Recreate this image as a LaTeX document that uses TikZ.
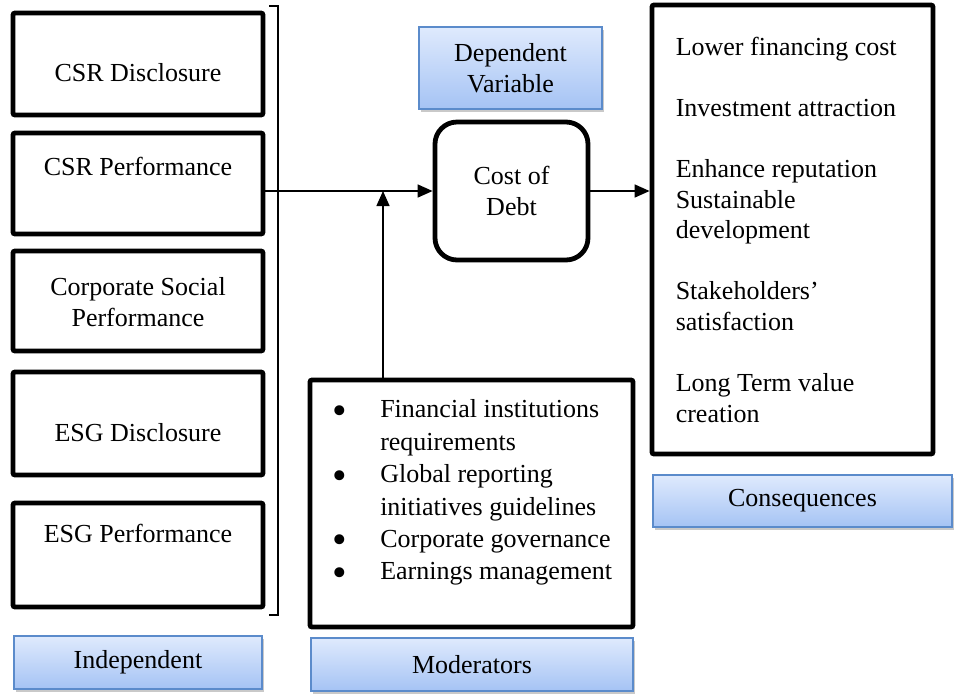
\documentclass[tikz,border=0pt]{standalone}
\usepackage{fontspec}
\setmainfont{Liberation Serif}
\usetikzlibrary{arrows.meta,calc,shadows}
\definecolor{tagtop}{HTML}{DFEAFD}
\definecolor{tagbottom}{HTML}{A5C3F4}
\definecolor{tagborder}{HTML}{5B8BCB}

\newcommand{\modbullet}{\makebox[23.75pt][l]{\raisebox{-3.2pt}[0pt][0pt]{\scalebox{1.6}{\textbullet}}}}

\tikzset{
  varbox/.style={draw, line width=2.4pt, rounded corners=1pt, minimum width=125pt, inner sep=0pt},
  tagbox/.style={draw=tagborder, line width=0.7pt, top color=tagtop, bottom color=tagbottom,
    drop shadow={shadow xshift=0.8pt, shadow yshift=-1.4pt, opacity=0.3, fill=black!70}, inner sep=0pt, align=center},
  txt/.style={inner sep=0pt, align=center},
}

\begin{document}
\begin{tikzpicture}[x=0.5pt, y=-0.5pt, >={Triangle[length=7.5pt,width=6.5pt]}, line width=0.75pt,
    font=\fontsize{13}{15.3}\selectfont]
  \useasboundingbox (0,0) rectangle (954,693);

  % independent variables
  \node [varbox, minimum height=51pt] (csrdisc) at (138,64) {};
  \node [varbox, minimum height=50.5pt] (csrperf) at (138,183.5) {};
  \node [varbox, minimum height=50pt] (corpsoc) at (138,301) {};
  \node [varbox, minimum height=51.5pt] (esgdisc) at (138,423.5) {};
  \node [varbox, minimum height=52pt] (esgperf) at (138,555) {};

  \node [txt] (csrdisctext) at (138,73) {CSR Disclosure};
  \node [txt] (csrperftext) at (138,166) {CSR Performance};
  \node [txt] (corpsoctext) at (138,302) {Corporate Social\\Performance};
  \node [txt] (esgdisctext) at (138,433) {ESG Disclosure};
  \node [txt] (esgperftext) at (138,533) {ESG Performance};

  % bracket
  \coordinate (brtop) at (278,6);
  \coordinate (brbot) at (278,615);
  \draw ($(brtop) + (-9,0)$) -- (brtop) -- (brbot) -- ($(brbot) + (-9,0)$);

  % dependent variable
  \node [tagbox, minimum width=91.5pt, minimum height=41pt] (deptag) at (510.5,68) {Dependent\\Variable};
  \node [draw, line width=2.4pt, rounded corners=11pt, minimum width=76.5pt, minimum height=69pt,
    align=center, inner sep=0pt] (cost) at (511.5,191) {Cost of\\Debt};

  % consequences
  \node [varbox, minimum width=140.5pt, minimum height=224.5pt] (cons) at (792.5,229.5) {};
  \node [txt, align=left, anchor=north west] (constext) at (675,36)
    {Lower financing cost\\[15.3pt]
     Investment attraction\\[15.3pt]
     Enhance reputation\\
     Sustainable\\
     development\\[15.3pt]
     Stakeholders’\\
     satisfaction\\[15.3pt]
     Long Term value\\
     creation};
  \node [tagbox, minimum width=149.5pt, minimum height=26pt] (constag) at (802.5,501) {Consequences};

  % moderators
  \node [varbox, minimum width=161.5pt, minimum height=123.5pt] (mod) at (471.5,503.5) {};
  \node [txt, align=left, anchor=north west, font=\fontsize{13}{16.2}\selectfont] (modtext) at (332,399)
    {\modbullet Financial institutions\\
     \hspace*{23.75pt}requirements\\
     \modbullet Global reporting\\
     \hspace*{23.75pt}initiatives guidelines\\
     \modbullet Corporate governance\\
     \modbullet Earnings management};
  \node [tagbox, minimum width=161pt, minimum height=26.5pt] (modtag) at (472,664.5) {Moderators};
  \node [tagbox, minimum width=124pt, minimum height=26.5pt] (indtag) at (138,662.5) {Independent};

  % connectors
  \coordinate (split) at (265,191);
  \coordinate (join) at (383,191);
  \draw [->] (split) -- (cost.west);
  \draw [->] (cost.east) -- (cost.east -| cons.west);
  \draw [->] (mod.north -| join) -- (join);
\end{tikzpicture}
\end{document}
